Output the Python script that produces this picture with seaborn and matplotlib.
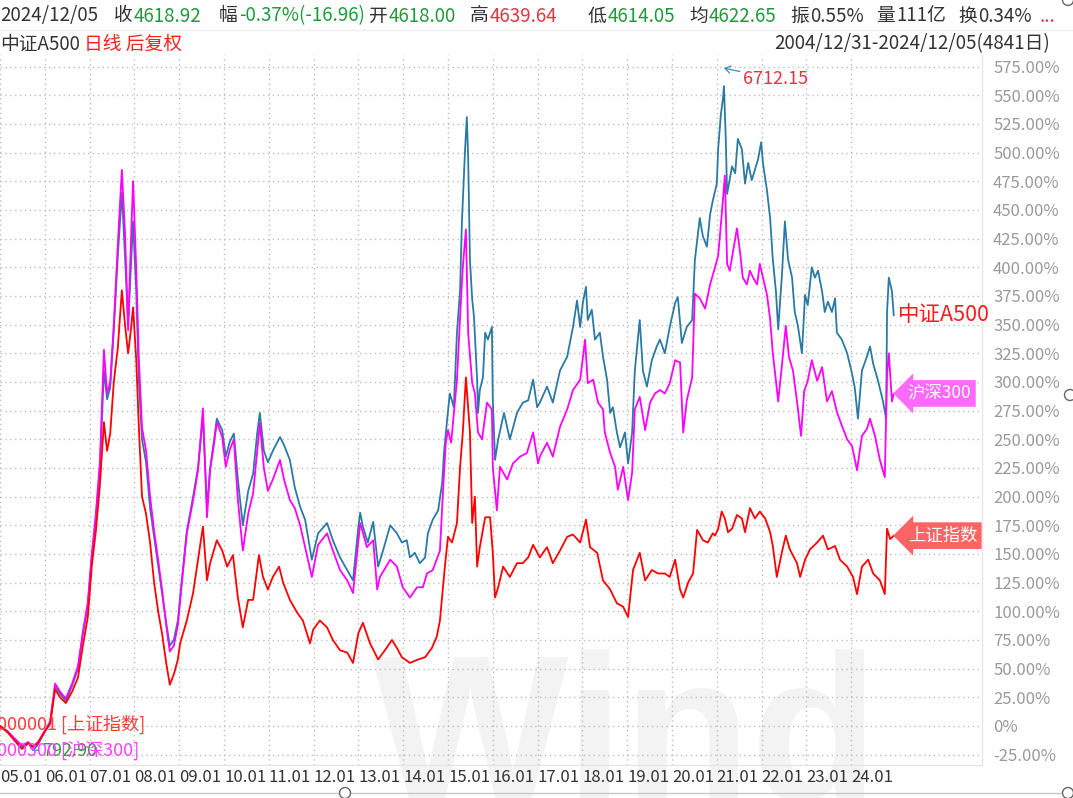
import matplotlib
matplotlib.use("Agg")
import matplotlib.pyplot as plt
import matplotlib.transforms as mtrans
from matplotlib.patches import Circle
from matplotlib.lines import Line2D
import seaborn as sns
import pandas as pd

# ---------------- data (fractional year, % change since 2004/12/31) ----------------
a500 = [(2005.00, 0), (2005.18, -5), (2005.33, -12), (2005.49, -18), (2005.63, -15), (2005.74, -21),
        (2005.85, -16), (2005.96, -8), (2006.12, 3), (2006.23, 35), (2006.34, 28), (2006.47, 22),
        (2006.61, 35), (2006.74, 50), (2006.85, 80), (2006.96, 105), (2007.05, 148), (2007.14, 182),
        (2007.23, 225), (2007.32, 310), (2007.39, 285), (2007.46, 295), (2007.54, 345), (2007.63, 410),
        (2007.72, 465), (2007.79, 410), (2007.86, 350), (2007.92, 400), (2007.97, 440), (2008.04, 380),
        (2008.10, 300), (2008.17, 250), (2008.26, 230), (2008.35, 190), (2008.44, 165), (2008.53, 140),
        (2008.62, 115), (2008.71, 90), (2008.79, 70), (2008.88, 75), (2008.97, 92), (2009.06, 128),
        (2009.17, 170), (2009.31, 200), (2009.42, 225), (2009.53, 270), (2009.62, 190), (2009.69, 225),
        (2009.78, 250), (2009.84, 268), (2009.96, 258), (2010.04, 235), (2010.13, 248), (2010.22, 255),
        (2010.31, 215), (2010.42, 175), (2010.54, 205), (2010.65, 220), (2010.74, 255), (2010.80, 273),
        (2010.89, 240), (2010.98, 230), (2011.09, 240), (2011.25, 252), (2011.34, 245), (2011.47, 232),
        (2011.58, 208), (2011.70, 191), (2011.81, 180), (2011.96, 145), (2012.10, 168), (2012.30, 177),
        (2012.43, 162), (2012.59, 147), (2012.75, 136), (2012.88, 127), (2013.00, 174), (2013.04, 186),
        (2013.10, 174), (2013.21, 160), (2013.33, 178), (2013.44, 139), (2013.55, 153), (2013.71, 175),
        (2013.86, 168), (2013.97, 160), (2014.08, 162), (2014.15, 147), (2014.26, 151), (2014.37, 142),
        (2014.49, 147), (2014.55, 168), (2014.66, 180), (2014.78, 188), (2014.87, 212), (2014.91, 238),
        (2014.98, 267), (2015.04, 290), (2015.13, 278), (2015.20, 343), (2015.27, 380), (2015.31, 439),
        (2015.38, 502), (2015.42, 531), (2015.45, 496), (2015.49, 406), (2015.54, 372), (2015.58, 357),
        (2015.65, 302), (2015.67, 273), (2015.71, 293), (2015.78, 304), (2015.83, 343), (2015.89, 337),
        (2015.98, 348), (2016.00, 284), (2016.05, 232), (2016.12, 250), (2016.25, 273), (2016.38, 250),
        (2016.54, 273), (2016.67, 282), (2016.79, 284), (2016.90, 302), (2016.99, 278), (2017.05, 282),
        (2017.21, 296), (2017.34, 282), (2017.50, 310), (2017.66, 322), (2017.79, 348), (2017.88, 371),
        (2017.95, 348), (2018.01, 369), (2018.08, 383), (2018.12, 354), (2018.21, 363), (2018.28, 337),
        (2018.39, 343), (2018.46, 322), (2018.55, 302), (2018.62, 273), (2018.68, 278), (2018.77, 256),
        (2018.84, 243), (2018.95, 256), (2019.02, 229), (2019.11, 256), (2019.17, 310), (2019.28, 354),
        (2019.35, 310), (2019.44, 296), (2019.55, 319), (2019.66, 331), (2019.73, 337), (2019.84, 325),
        (2019.95, 348), (2020.07, 369), (2020.13, 374), (2020.22, 334), (2020.33, 348), (2020.45, 354),
        (2020.51, 406), (2020.62, 443), (2020.69, 427), (2020.78, 418), (2020.85, 446), (2020.91, 458),
        (2021.00, 473), (2021.03, 503), (2021.09, 533), (2021.14, 548), (2021.16, 558), (2021.20, 512),
        (2021.23, 464), (2021.34, 488), (2021.41, 482), (2021.47, 512), (2021.56, 503), (2021.63, 473),
        (2021.70, 491), (2021.78, 476), (2021.85, 485), (2021.92, 494), (2021.99, 509), (2022.03, 491),
        (2022.12, 467), (2022.19, 443), (2022.25, 407), (2022.32, 379), (2022.37, 346), (2022.45, 391),
        (2022.52, 440), (2022.59, 407), (2022.68, 391), (2022.74, 361), (2022.81, 349), (2022.90, 325),
        (2022.97, 376), (2023.03, 367), (2023.12, 400), (2023.19, 391), (2023.26, 397), (2023.35, 379),
        (2023.41, 361), (2023.48, 370), (2023.57, 361), (2023.64, 373), (2023.68, 343), (2023.79, 337),
        (2023.91, 325), (2024.02, 307), (2024.08, 295), (2024.15, 268), (2024.24, 310), (2024.35, 322),
        (2024.42, 331), (2024.49, 316), (2024.60, 301), (2024.71, 283), (2024.78, 268), (2024.80, 361),
        (2024.84, 391), (2024.91, 379), (2024.95, 358)]

hs300 = [(2005.00, 0), (2005.18, -5), (2005.33, -11), (2005.49, -17), (2005.63, -14), (2005.74, -19),
         (2005.85, -15), (2005.96, -7), (2006.12, 4), (2006.23, 37), (2006.34, 30), (2006.47, 24),
         (2006.61, 37), (2006.74, 52), (2006.85, 82), (2006.96, 108), (2007.05, 150), (2007.14, 185),
         (2007.23, 230), (2007.32, 328), (2007.39, 290), (2007.46, 300), (2007.54, 350), (2007.63, 420),
         (2007.72, 485), (2007.79, 430), (2007.86, 345), (2007.92, 420), (2007.97, 475), (2008.04, 400),
         (2008.10, 320), (2008.17, 260), (2008.26, 240), (2008.35, 200), (2008.44, 170), (2008.53, 145),
         (2008.62, 118), (2008.71, 88), (2008.79, 65), (2008.88, 70), (2008.97, 88), (2009.06, 125),
         (2009.17, 168), (2009.31, 197), (2009.42, 223), (2009.53, 277), (2009.62, 182), (2009.69, 223),
         (2009.78, 247), (2009.84, 265), (2009.96, 252), (2010.04, 226), (2010.13, 241), (2010.22, 250),
         (2010.31, 197), (2010.42, 153), (2010.54, 185), (2010.65, 203), (2010.74, 240), (2010.80, 264),
         (2010.89, 225), (2010.98, 205), (2011.09, 215), (2011.25, 232), (2011.34, 215), (2011.47, 197),
         (2011.58, 190), (2011.70, 175), (2011.81, 156), (2011.96, 130), (2012.10, 158), (2012.30, 168),
         (2012.43, 153), (2012.59, 136), (2012.75, 127), (2012.88, 116), (2013.00, 162), (2013.04, 177),
         (2013.19, 156), (2013.33, 162), (2013.42, 119), (2013.48, 130), (2013.71, 145), (2013.86, 139),
         (2013.99, 121), (2014.15, 112), (2014.31, 121), (2014.44, 121), (2014.53, 133), (2014.66, 136),
         (2014.82, 153), (2014.89, 206), (2014.95, 247), (2015.00, 258), (2015.07, 247), (2015.20, 302),
         (2015.27, 357), (2015.33, 400), (2015.40, 433), (2015.45, 343), (2015.54, 299), (2015.60, 290),
         (2015.67, 256), (2015.76, 250), (2015.87, 282), (2015.98, 276), (2016.00, 226), (2016.09, 188),
         (2016.16, 226), (2016.32, 215), (2016.45, 229), (2016.61, 235), (2016.76, 238), (2016.90, 256),
         (2017.01, 229), (2017.05, 235), (2017.21, 247), (2017.34, 235), (2017.50, 261), (2017.66, 276),
         (2017.79, 293), (2017.95, 302), (2018.06, 337), (2018.12, 299), (2018.24, 302), (2018.35, 282),
         (2018.46, 276), (2018.50, 256), (2018.62, 238), (2018.73, 226), (2018.79, 206), (2018.91, 226),
         (2019.02, 197), (2019.11, 221), (2019.17, 276), (2019.28, 287), (2019.40, 258), (2019.51, 282),
         (2019.62, 290), (2019.73, 293), (2019.84, 290), (2019.95, 299), (2020.07, 319), (2020.18, 317),
         (2020.25, 256), (2020.33, 284), (2020.45, 304), (2020.51, 377), (2020.62, 373), (2020.74, 364),
         (2020.85, 385), (2020.96, 400), (2021.03, 410), (2021.11, 446), (2021.18, 480), (2021.23, 403),
         (2021.29, 397), (2021.36, 413), (2021.45, 434), (2021.52, 413), (2021.58, 391), (2021.67, 385),
         (2021.74, 397), (2021.81, 391), (2021.90, 385), (2021.96, 403), (2022.03, 391), (2022.12, 376),
         (2022.19, 355), (2022.25, 325), (2022.32, 301), (2022.37, 283), (2022.45, 313), (2022.54, 349),
         (2022.61, 322), (2022.70, 310), (2022.79, 283), (2022.88, 253), (2022.95, 292), (2023.03, 301),
         (2023.12, 319), (2023.24, 301), (2023.35, 313), (2023.46, 283), (2023.57, 292), (2023.68, 274),
         (2023.79, 262), (2023.91, 250), (2024.02, 244), (2024.13, 223), (2024.24, 253), (2024.35, 259),
         (2024.42, 268), (2024.53, 253), (2024.64, 232), (2024.75, 217), (2024.80, 307), (2024.84, 325),
         (2024.91, 283), (2024.95, 290)]

sse = [(2005.00, 0), (2005.18, -6), (2005.33, -13), (2005.49, -20), (2005.63, -15), (2005.74, -18),
       (2005.85, -14), (2005.96, -7), (2006.12, 2), (2006.23, 32), (2006.34, 25), (2006.47, 20),
       (2006.61, 30), (2006.74, 42), (2006.85, 70), (2006.96, 95), (2007.05, 140), (2007.14, 170),
       (2007.23, 210), (2007.32, 265), (2007.39, 240), (2007.46, 255), (2007.54, 300), (2007.63, 330),
       (2007.72, 380), (2007.79, 350), (2007.86, 325), (2007.92, 345), (2007.97, 365), (2008.04, 320),
       (2008.10, 260), (2008.17, 200), (2008.26, 185), (2008.35, 160), (2008.44, 125), (2008.53, 100),
       (2008.62, 80), (2008.71, 55), (2008.79, 36), (2008.88, 45), (2008.97, 58), (2009.02, 72),
       (2009.17, 92), (2009.31, 116), (2009.42, 145), (2009.53, 174), (2009.62, 127), (2009.69, 142),
       (2009.84, 162), (2009.96, 153), (2010.07, 139), (2010.20, 149), (2010.31, 112), (2010.42, 86),
       (2010.54, 110), (2010.65, 110), (2010.78, 149), (2010.87, 130), (2010.98, 119), (2011.09, 130),
       (2011.23, 139), (2011.32, 125), (2011.47, 110), (2011.63, 99), (2011.76, 92), (2011.92, 72),
       (2011.99, 84), (2012.14, 92), (2012.30, 86), (2012.43, 75), (2012.59, 66), (2012.75, 64),
       (2012.88, 55), (2013.00, 81), (2013.10, 90), (2013.26, 72), (2013.44, 58), (2013.59, 66),
       (2013.75, 75), (2013.86, 68), (2013.97, 60), (2014.15, 55), (2014.33, 58), (2014.49, 60),
       (2014.64, 68), (2014.75, 78), (2014.82, 92), (2014.93, 139), (2015.00, 165), (2015.09, 160),
       (2015.20, 177), (2015.27, 226), (2015.33, 256), (2015.40, 304), (2015.49, 256), (2015.54, 177),
       (2015.60, 200), (2015.65, 139), (2015.71, 156), (2015.83, 182), (2015.94, 182), (2016.00, 151),
       (2016.05, 112), (2016.12, 121), (2016.23, 139), (2016.38, 130), (2016.54, 142), (2016.67, 142),
       (2016.79, 147), (2016.90, 158), (2017.05, 147), (2017.21, 156), (2017.34, 142), (2017.50, 153),
       (2017.66, 165), (2017.79, 167), (2017.95, 160), (2018.08, 180), (2018.17, 156), (2018.33, 151),
       (2018.46, 127), (2018.62, 119), (2018.77, 107), (2018.91, 104), (2019.02, 95), (2019.13, 136),
       (2019.28, 151), (2019.40, 127), (2019.55, 136), (2019.69, 133), (2019.84, 133), (2019.95, 130),
       (2020.07, 145), (2020.18, 119), (2020.25, 112), (2020.36, 125), (2020.47, 133), (2020.56, 171),
       (2020.69, 162), (2020.80, 160), (2020.91, 168), (2020.96, 166), (2021.03, 172), (2021.11, 187),
       (2021.18, 181), (2021.25, 169), (2021.34, 172), (2021.45, 184), (2021.56, 181), (2021.63, 169),
       (2021.74, 190), (2021.85, 181), (2021.96, 187), (2022.08, 181), (2022.19, 169), (2022.25, 157),
       (2022.34, 130), (2022.45, 151), (2022.54, 166), (2022.63, 154), (2022.79, 142), (2022.86, 130),
       (2022.97, 145), (2023.08, 154), (2023.24, 160), (2023.37, 166), (2023.48, 154), (2023.64, 157),
       (2023.75, 145), (2023.91, 139), (2024.04, 130), (2024.13, 115), (2024.24, 139), (2024.38, 145),
       (2024.49, 133), (2024.64, 127), (2024.75, 115), (2024.80, 172), (2024.87, 163), (2024.95, 166)]

series_names = ["中证A500", "沪深300", "上证指数"]
series_colors = ["#2a7aa3", "#ff00ff", "#ff0000"]
year_ticks = list(range(2005, 2025))
year_labels = [f"{y % 100:02d}.01" for y in year_ticks]
pct_ticks = list(range(-25, 576, 25))
pct_labels = ["0%" if v == 0 else f"{v:.2f}%" for v in pct_ticks]
peak_label = "6712.15"
trough_label = "792.90"

header_items = [  # (x px, text, color)
    (0, "2024/12/05", "#333333"), (114, "收", "#333333"), (134, "4618.92", "#1f9a3a"),
    (219, "幅", "#333333"), (239, "-0.37%(-16.96)", "#1f9a3a"),
    (369, "开", "#333333"), (389, "4618.00", "#1f9a3a"),
    (470, "高", "#333333"), (490, "4639.64", "#e8333f"),
    (588, "低", "#333333"), (608, "4614.05", "#1f9a3a"),
    (689, "均", "#333333"), (709, "4622.65", "#1f9a3a"),
    (790, "振", "#333333"), (810, "0.55%", "#333333"),
    (876, "量", "#333333"), (896, "111亿", "#333333"),
    (958, "换", "#333333"), (978, "0.34%", "#333333"),
    (1040, "...", "#e8333f"),
]

# ---------------- figure ----------------
sns.set_style("white")
plt.rcParams["font.family"] = ["Noto Sans CJK SC", "DejaVu Sans"]
plt.rcParams["axes.unicode_minus"] = False

W, H = 1073, 798
fig = plt.figure(figsize=(W / 100, H / 100), dpi=100)
fx = lambda x: x / W
fy = lambda y: 1 - y / H

# watermark (behind everything)
fig.text(fx(372), fy(800), "Wind", fontsize=150, fontweight="bold", color="#f3f3f3",
         family="Liberation Sans", ha="left", va="baseline", zorder=-10)

ax_l, ax_r, ax_t, ax_b = 0, 982, 55, 765
ax = fig.add_axes([fx(ax_l), fy(ax_b), (ax_r - ax_l) / W, (ax_b - ax_t) / H])
ax.patch.set_alpha(0)

frames = []
for name, pts in zip(series_names, [a500, hs300, sse]):
    frames.append(pd.DataFrame({"t": [p[0] for p in pts], "v": [p[1] for p in pts], "s": name}))
df = pd.concat(frames, ignore_index=True)

sns.lineplot(data=df, x="t", y="v", hue="s", hue_order=series_names,
             palette=dict(zip(series_names, series_colors)), estimator=None, sort=False,
             linewidth=1.3, legend=False, ax=ax)

px_per_year = 44.8
ax.set_xlim(2005.0, 2005.0 + (ax_r - ax_l) / px_per_year)
px_per_pct = 1.1467
zero_y = 726
ax.set_ylim((zero_y - ax_b) / px_per_pct, (zero_y - ax_t) / px_per_pct)

ax.set_xticks(year_ticks)
ax.set_xticklabels(year_labels, ha="left")
ax.tick_params(axis="x", length=0, pad=3, labelsize=12, labelcolor="#333333")
ax.yaxis.tick_right()
ax.set_yticks(pct_ticks)
ax.set_yticklabels(pct_labels)
ax.tick_params(axis="y", length=0, pad=8, labelsize=12, labelcolor="#9a9a9a")
ax.set_xlabel("")
ax.set_ylabel("")
ax.grid(True, linestyle=(0, (1, 2.5)), color="#bdbdbd", linewidth=1)
for side in ["left", "top"]:
    ax.spines[side].set_visible(False)
for side in ["right", "bottom"]:
    ax.spines[side].set_color("#e6e6e6")
    ax.spines[side].set_linewidth(1)

# end tags
last = {n: pts[-1] for n, pts in zip(series_names, [a500, hs300, sse])}
ax.annotate(series_names[0], xy=last[series_names[0]], xytext=(4, 0), textcoords="offset pixels",
            ha="left", va="center", fontsize=15.5, color="#ff1a1a")
ax.annotate(series_names[1], xy=last[series_names[1]], xytext=(14, 0), textcoords="offset pixels",
            ha="left", va="center", fontsize=12.5, color="white",
            bbox=dict(boxstyle="larrow,pad=0.25", fc="#fd6afd", ec="none"))
ax.annotate(series_names[2], xy=last[series_names[2]], xytext=(14, 0), textcoords="offset pixels",
            ha="left", va="center", fontsize=12.5, color="white",
            bbox=dict(boxstyle="larrow,pad=0.25", fc="#ff6464", ec="none"))

# peak / trough annotations
peak = max(a500, key=lambda p: p[1])
trough = min(a500, key=lambda p: p[1])
up = mtrans.offset_copy(ax.transData, fig=fig, x=0, y=18, units="dots")
ax.annotate(peak_label, xy=peak, xycoords=up, xytext=(19, -11), textcoords="offset pixels",
            ha="left", va="center", fontsize=13, color="#e8333f",
            arrowprops=dict(arrowstyle="->,head_length=0.3,head_width=0.2", color="#3a8db5",
                            lw=0.9, shrinkA=0, shrinkB=0))
ax.annotate(trough_label, xy=trough, xytext=(9, -1), textcoords="offset pixels",
            ha="left", va="center", fontsize=13, color="#2e9a3e",
            arrowprops=dict(arrowstyle="-", color="#3a8db5", lw=1, shrinkA=0, shrinkB=0))

# legend-like codes in the lower left
fig.text(fx(-3), fy(724), "000001 [上证指数]", fontsize=13, color="#ff3b3b", ha="left", va="center")
fig.text(fx(-3), fy(750), "000300 [沪深300]", fontsize=13, color="#ff40ff", ha="left", va="center")

# header rows
for x, s, c in header_items:
    fig.text(fx(x), fy(16), s, fontsize=13.5, color=c, ha="left", va="center")
fig.text(fx(0), fy(44), "中证A500", fontsize=13.5, color="#333333", ha="left", va="center")
fig.text(fx(84), fy(44), "日线 后复权", fontsize=13.5, color="#ff2020", ha="left", va="center")
fig.text(fx(1050), fy(44), "2004/12/31-2024/12/05(4841日)", fontsize=13.5, color="#333333",
         ha="right", va="center")

fig.add_artist(Line2D([0, 1], [fy(30), fy(30)], color="#eeeeee", lw=1))
fig.add_artist(Line2D([0, 1], [fy(793), fy(793)], color="#c8c8c8", lw=1))
for cx, cy in [(345, 793), (1068, 793), (1070, 395), (1068, 0)]:
    fig.add_artist(Circle((cx / 100, (H - cy) / 100), 0.055, transform=fig.dpi_scale_trans,
                          fc="white", ec="#666666", lw=1, zorder=10))

fig.savefig("out.png", dpi=100)
